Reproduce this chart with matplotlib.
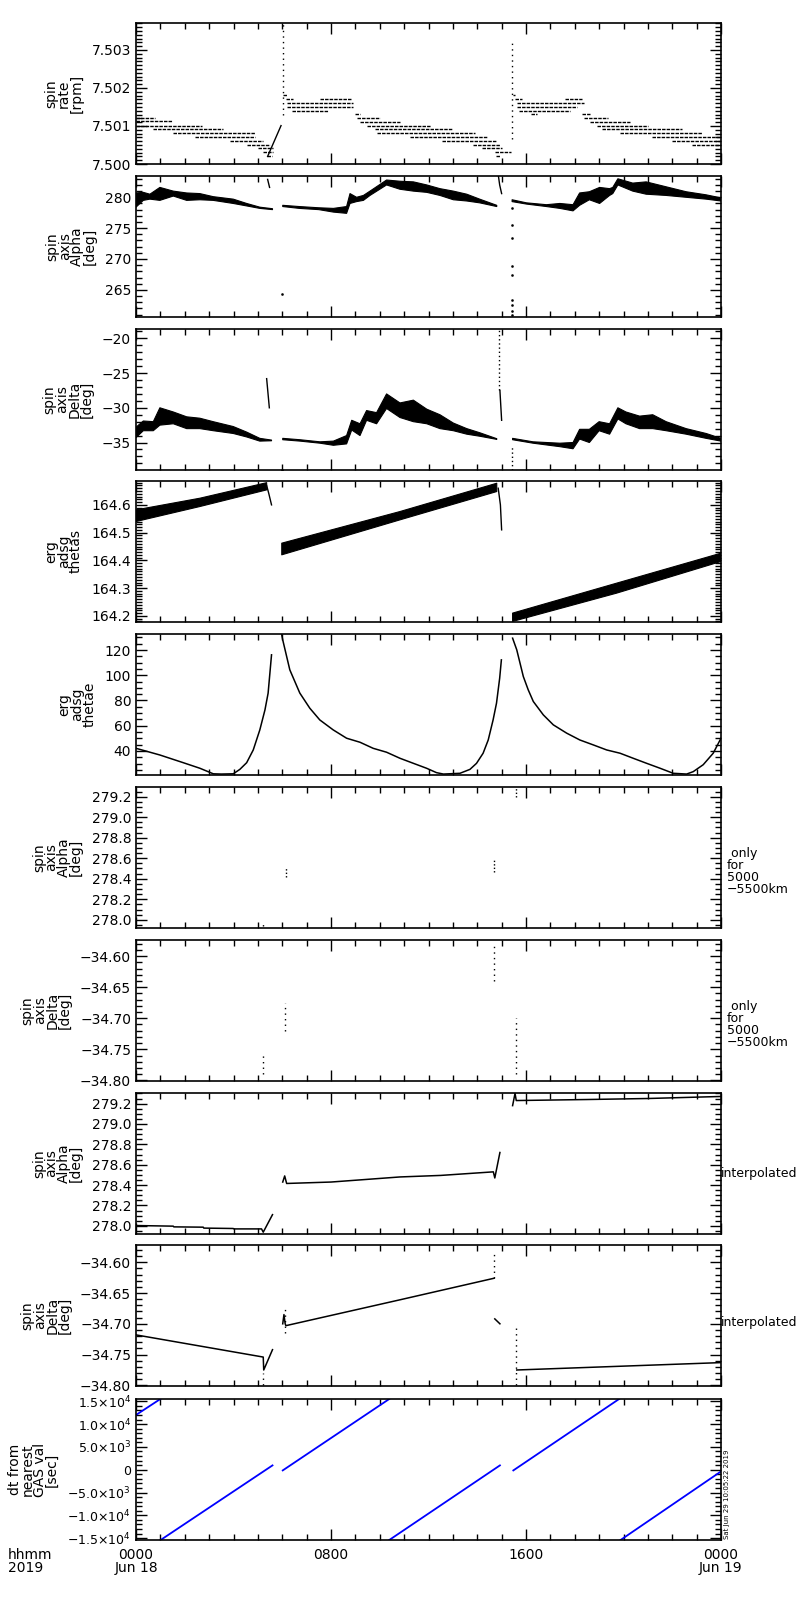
import numpy as np
import matplotlib
matplotlib.use("Agg")
import matplotlib.pyplot as plt
from matplotlib.ticker import MultipleLocator, FixedLocator, FuncFormatter

plt.rcParams['font.family'] = ['DejaVu Sans']
plt.rcParams['font.size'] = 10
plt.rcParams['mathtext.default'] = 'regular'

nan = np.nan

# ---------------- Panel 1: spin rate [rpm] (quantized horizontal runs) ----------
rate_start = [0.00, 0.00, 0.00, 0.71, 1.53, 2.42, 3.85, 4.54, 5.02, 5.22, 5.36,
              6.02, 6.15, 6.18, 7.55, 6.18, 6.38, 8.98, 9.05, 9.19, 9.46, 9.80, 9.90,
              11.24, 12.54, 13.84, 14.18, 14.73, 14.77,
              15.48, 15.55, 17.60, 15.62, 15.62, 15.73, 16.19, 18.29, 18.39, 18.63,
              18.90, 19.11, 19.86, 21.15, 21.97, 22.83]
rate_end = [0.78, 1.46, 2.69, 3.56, 4.88, 4.88, 5.22, 5.50, 5.63, 5.63, 5.56,
            6.21, 6.45, 8.91, 8.87, 8.91, 7.89, 9.19, 10.00, 10.83, 12.10, 12.95, 13.90,
            14.39, 14.80, 14.93, 15.00, 15.40, 14.93,
            15.55, 15.82, 18.29, 18.36, 18.09, 17.81, 16.44, 18.63, 19.38, 20.27,
            21.02, 22.39, 23.21, 24.00, 24.00, 24.00]
rate_val = [7.50122, 7.50112, 7.50101, 7.50091, 7.50082, 7.50072, 7.50061, 7.50051,
            7.50041, 7.50032, 7.50022,
            7.50182, 7.50172, 7.50161, 7.50172, 7.50151, 7.50140, 7.50132, 7.50122,
            7.50111, 7.50101, 7.50091, 7.50082,
            7.50072, 7.50061, 7.50051, 7.50041, 7.50032, 7.50022,
            7.50182, 7.50172, 7.50172, 7.50161, 7.50151, 7.50140, 7.50132, 7.50132,
            7.50122, 7.50111, 7.50101, 7.50091, 7.50082, 7.50072, 7.50061, 7.50051]
rate_ramp_t = [5.40, 5.95]
rate_ramp_v = [7.50020, 7.50101]
rate_spike_t = [6.02, 15.43]
rate_spike_lo = [7.50130, 7.50065]
rate_spike_hi = [7.50372, 7.50324]

# ---------------- Panel 2: spin axis Alpha (noisy band envelopes) ----------------
alpha_t = [0, 0.3, 0.57, 0.98, 1.53, 2.08, 2.62, 3.17, 3.99, 4.54, 5.08, 5.6, nan,
           6.02, 6.7, 7.5, 8.1, 8.64, 8.78, 9.05, 9.33, 9.6, 10.28, 10.83, 11.38, 11.93,
           12.47, 13.02, 13.57, 14.1, 14.8, nan,
           15.43, 16.02, 16.84, 17.39, 17.93, 18.2, 18.6, 19.02, 19.43, 19.56, 19.77,
           20.38, 20.93, 21.75, 22.57, 23.39, 24.0]
alpha_hi = [280.7, 280.8, 280.5, 281.6, 281.0, 280.7, 280.6, 280.1, 279.7, 279.0, 278.4, 278.15, nan,
            278.7, 278.5, 278.3, 278.2, 278.5, 280.6, 280.0, 280.3, 281.0, 282.8, 282.6, 282.5, 282.0,
            281.4, 281.0, 280.5, 279.7, 278.7, nan,
            279.6, 279.1, 278.8, 279.0, 278.8, 280.7, 280.9, 281.6, 281.4, 281.6, 283.0,
            282.3, 282.5, 281.7, 280.9, 280.4, 279.9]
alpha_lo = [278.4, 279.5, 279.7, 279.5, 280.2, 279.5, 279.6, 279.5, 279.0, 278.6, 278.2, 278.0, nan,
            278.5, 278.2, 278.0, 277.6, 277.4, 279.0, 279.3, 279.5, 280.3, 282.0, 281.3, 281.0, 280.8,
            280.3, 279.6, 279.4, 279.1, 278.5, nan,
            279.3, 278.9, 278.5, 278.2, 277.8, 278.7, 279.6, 279.0, 280.3, 280.6, 282.0,
            281.0, 280.5, 280.3, 280.0, 279.7, 279.4]
alpha_tr_t = [5.40, 5.48, nan, 14.87, 14.92, 15.00]
alpha_tr_v = [282.9, 281.6, nan, 283.4, 282.0, 280.6]
alpha_dot_t = [6.00, 15.43, 15.43, 15.43, 15.43, 15.43, 15.43, 15.43, 15.43, 15.43]
alpha_dot_v = [264.3, 278.3, 275.5, 273.4, 268.8, 267.4, 263.4, 262.5, 261.5, 261.0]

# ---------------- Panel 3: spin axis Delta ----------------
delta_t = [0, 0.3, 0.71, 0.98, 1.53, 2.08, 2.62, 3.17, 3.99, 4.54, 5.08, 5.56, nan,
           6.02, 6.73, 7.55, 8.1, 8.64, 8.85, 9.19, 9.46, 9.87, 10.28, 10.83, 11.38, 11.93,
           12.47, 13.02, 13.57, 14.11, 14.8, nan,
           15.45, 16.29, 17.39, 17.93, 18.2, 18.6, 19.0, 19.43, 19.77, 20.1, 20.66, 21.2,
           21.75, 22.57, 23.39, 24.0]
delta_hi = [-32.8, -31.9, -32.0, -30.0, -30.6, -31.3, -31.5, -32.0, -32.7, -33.5, -34.4, -34.65, nan,
            -34.4, -34.6, -34.9, -34.8, -34.0, -31.8, -32.3, -30.4, -30.7, -28.0, -29.3, -28.9, -30.2,
            -31.0, -32.2, -33.0, -33.6, -34.45, nan,
            -34.4, -34.9, -35.1, -35.0, -33.1, -33.1, -32.0, -32.3, -30.0, -30.6, -31.2, -31.0,
            -32.0, -33.0, -33.7, -34.4]
delta_lo = [-34.3, -33.3, -33.3, -32.5, -32.3, -33.0, -33.0, -33.3, -33.7, -34.2, -34.8, -34.75, nan,
            -34.6, -34.8, -35.1, -35.4, -35.2, -33.2, -34.0, -31.8, -32.3, -30.1, -31.4, -32.0, -32.3,
            -33.0, -33.3, -33.8, -34.1, -34.55, nan,
            -34.6, -35.1, -35.6, -35.9, -34.5, -35.0, -33.3, -33.8, -31.6, -32.3, -33.0, -33.0,
            -33.3, -33.8, -34.4, -34.8]
delta_tr_t = [5.36, 5.47, nan, 14.93, 15.00]
delta_tr_v = [-25.8, -30.0, nan, -27.5, -31.8]
delta_sp_t = [14.90, 15.43]
delta_sp_lo = [-27.5, -38.9]
delta_sp_hi = [-18.6, -35.6]
delta_dot_t = [5.98]
delta_dot_v = [-38.9]

# ---------------- Panel 4: erg adsg thetas ----------------
thetas_t = [0, 2.62, 5.36, nan, 5.98, 10.83, 14.8, nan, 15.45, 19.72, 24.0]
thetas_hi = [164.582, 164.624, 164.680, nan, 164.462, 164.576, 164.678, nan, 164.210, 164.318, 164.426]
thetas_lo = [164.540, 164.594, 164.654, nan, 164.420, 164.546, 164.648, nan, 164.180, 164.282, 164.396]
thetas_drop_t = [5.36, 5.45, 5.56, nan, 14.86, 14.95, 15.00]
thetas_drop_v = [164.67, 164.64, 164.60, nan, 164.66, 164.60, 164.51]

# ---------------- Panel 5: erg adsg thetae ----------------
thetae_t = [0, 0.98, 1.94, 2.62, 3.17, 3.5, 3.99, 4.26, 4.54, 4.81, 5.08, 5.29, 5.42, 5.56, nan,
            5.98, 6.02, 6.31, 6.72, 7.13, 7.54, 8.09, 8.64, 9.19, 9.73, 10.28, 10.83, 11.38,
            11.92, 12.33, 12.61, 13.29, 13.70, 13.97, 14.24, 14.45, 14.65, 14.79, 14.92, 14.99, nan,
            15.45, 15.62, 15.89, 16.09, 16.30, 16.71, 17.12, 17.67, 18.21, 18.76, 19.31, 19.86,
            20.40, 20.95, 21.50, 22.04, 22.59, 22.86, 23.27, 23.68, 24.0]
thetae_v = [42.1, 36.8, 30.7, 26.3, 21.9, 21.7, 21.9, 25.4, 30.7, 40.8, 56.7, 72.5, 85.8, 116.2, nan,
            132.0, 128.0, 104.3, 85.9, 73.9, 64.6, 56.7, 50.1, 46.9, 42.1, 39.0, 34.2, 30.2,
            26.3, 22.8, 21.7, 22.3, 25.4, 30.2, 38.2, 48.7, 64.6, 77.9, 97.7, 112.2, nan,
            129.4, 120.2, 99.0, 88.5, 79.2, 68.6, 60.7, 54.1, 48.7, 44.8, 40.8, 38.2,
            34.2, 30.2, 26.3, 22.3, 21.7, 23.6, 29.1, 38.2, 50.1]

# ---------------- Panel 6/7: only for 5000-5500 km ----------------
a6_t = [5.22, 6.14, 14.69, 15.59]
a6_lo = [277.94, 278.42, 278.47, 279.20]
a6_hi = [277.97, 278.50, 278.58, 279.29]
d7_t = [5.22, 6.11, 14.70, 15.58]
d7_lo = [-34.790, -34.720, -34.640, -34.790]
d7_hi = [-34.755, -34.675, -34.584, -34.700]

# ---------------- Panel 8: Alpha interpolated ----------------
a8_t = [0, 1.53, 1.55, 2.76, 2.78, 3.99, 4.01, 5.15, 5.22, 5.60, nan,
        6.02, 6.10, 6.18, 8.0, 10.83, 12.5, 14.66, 14.72, 14.93, nan,
        15.45, 15.55, 15.60, 18.5, 21.0, 24.0]
a8_v = [278.003, 277.997, 277.990, 277.987, 277.978, 277.974, 277.970, 277.970, 277.938, 278.110, nan,
        278.430, 278.490, 278.416, 278.430, 278.480, 278.495, 278.530, 278.470, 278.720, nan,
        279.180, 279.300, 279.230, 279.240, 279.250, 279.270]

# ---------------- Panel 9: Delta interpolated ----------------
d9_t = [0, 5.22, 5.24, 5.60, nan, 6.02, 6.07, 6.12, 6.15, 10.83, 14.69, nan,
        14.72, 14.93, nan, 15.62, 24.0]
d9_v = [-34.718, -34.754, -34.775, -34.742, nan, -34.700, -34.685, -34.700, -34.703, -34.661, -34.626, nan,
        -34.692, -34.700, nan, -34.775, -34.763]
d9_dot_t = [5.22, 6.12, 14.69, 15.58]
d9_dot_lo = [-34.800, -34.715, -34.625, -34.800]
d9_dot_hi = [-34.780, -34.675, -34.585, -34.700]

# ---------------- Panel 10: dt from nearest GAS val [sec] ----------------
dt_t = [0, 1.00, nan, 1.01, 5.60, nan, 6.02, 10.39, nan, 10.39, 14.93, nan,
        15.48, 19.82, nan, 19.88, 24.0]
dt_v = [12000, 15500, nan, -15400, 950, nan, -150, 15500, nan, -15400, 950, nan,
        -150, 15500, nan, -15400, -370]

# ---------------- axis settings ----------------
ylabels = ["spin\nrate\n[rpm]", "spin\naxis\nAlpha\n[deg]", "spin\naxis\nDelta\n[deg]",
           "erg\nadsg\nthetas", "erg\nadsg\nthetae", "spin\naxis\nAlpha\n[deg]",
           "spin\naxis\nDelta\n[deg]", "spin\naxis\nAlpha\n[deg]", "spin\naxis\nDelta\n[deg]",
           "dt from\nnearest\nGAS val\n[sec]"]
ylims = [(7.50000, 7.50371), (260.6, 283.45), (-38.96, -18.65), (164.178, 164.686),
         (20.95, 132.7), (277.92, 279.294), (-34.801, -34.574), (277.92, 279.304),
         (-34.801, -34.572), (-15400, 15500)]
ymajor = [0.001, 5, 5, 0.1, 20, 0.2, 0.05, 0.2, 0.05, 5000]
yminor = [0.0001, 1, 1, 0.01, 5, 0.05, 0.01, 0.05, 0.01, 1000]
yfmt = ["{:.3f}", "{:.0f}", "{:.0f}", "{:.1f}", "{:.0f}", "{:.1f}", "{:.2f}", "{:.1f}", "{:.2f}", None]
dt_ticks = [-15000, -10000, -5000, 0, 5000, 10000, 15000]
dt_ticklabels = [r"$-1.5{\times}10^{4}$", r"$-1.0{\times}10^{4}$", r"$-5.0{\times}10^{3}$", "0",
                 r"$5.0{\times}10^{3}$", r"$1.0{\times}10^{4}$", r"$1.5{\times}10^{4}$"]
xticks = [0, 8, 16, 24]
xticklabels = ["0000\nJun 18", "0800", "1600", "0000\nJun 19"]
right_notes = [None, None, None, None, None,
               " only\nfor\n5000\n\u22125500km", " only\nfor\n5000\n\u22125500km",
               "interpolated", "interpolated", None]
right_note_y = [0, 0, 0, 0, 0, 0.40, 0.40, 0.43, 0.45, 0]
right_note_dx = [0, 0, 0, 0, 0, 6, 6, 0, 0, 0]

W, H = 800, 1600
tops = [23, 176, 329, 481, 634, 787, 940, 1093, 1245, 1399]
ph = 141
left, pw = 136, 585

fig = plt.figure(figsize=(8, 16), dpi=100)
axes = []
for i in range(10):
    ax = fig.add_axes([left / W, 1 - (tops[i] + ph) / H, pw / W, ph / H])
    axes.append(ax)
    ax.set_xlim(0, 24)
    ax.set_ylim(*ylims[i])
    ax.xaxis.set_major_locator(FixedLocator(xticks))
    ax.xaxis.set_minor_locator(MultipleLocator(1))
    ax.tick_params(which='both', direction='in', top=True, right=True, width=1.0)
    ax.tick_params(which='major', length=8, labelsize=10)
    ax.tick_params(which='minor', length=4)
    for s in ax.spines.values():
        s.set_linewidth(1.2)
    if i == 9:
        ax.yaxis.set_major_locator(FixedLocator(dt_ticks))
        ax.set_yticklabels(dt_ticklabels, fontsize=9)
    else:
        ax.yaxis.set_major_locator(MultipleLocator(ymajor[i]))
        f = yfmt[i]
        ax.yaxis.set_major_formatter(FuncFormatter(
            lambda v, p, f=f: f.format(v + 0.0).replace("-", "\u2212")))
    ax.yaxis.set_minor_locator(MultipleLocator(yminor[i]))
    ax.set_ylabel(ylabels[i], fontsize=10, linespacing=0.85, labelpad=6)
    if i == 9:
        ax.set_xticklabels(xticklabels, fontsize=10, linespacing=0.9)
        ax.tick_params(axis='x', which='major', pad=6)
    else:
        ax.set_xticklabels([])
    if right_notes[i]:
        ax.text(1.0 + right_note_dx[i] / pw, right_note_y[i], right_notes[i],
                transform=ax.transAxes, ha='left', va='center',
                fontsize=9, linespacing=0.9)

k = 'black'
# panel 1
ax = axes[0]
ax.hlines(rate_val, rate_start, rate_end, color=k, lw=1.0, linestyles=(0, (2.5, 0.8)))
ax.plot(rate_ramp_t, rate_ramp_v, color=k, lw=1)
ax.vlines(rate_spike_t, rate_spike_lo, rate_spike_hi, color=k, lw=1, linestyles=(0, (1, 3)))

# panel 2
ax = axes[1]
ax.fill_between(alpha_t, alpha_lo, alpha_hi, color=k, lw=0.8, edgecolor=k)
ax.plot(alpha_tr_t, alpha_tr_v, color=k, lw=1)
ax.plot(alpha_dot_t, alpha_dot_v, ls='none', marker='s', ms=0.8, color=k)

# panel 3
ax = axes[2]
ax.fill_between(delta_t, delta_lo, delta_hi, color=k, lw=0.8, edgecolor=k)
ax.plot(delta_tr_t, delta_tr_v, color=k, lw=1)
ax.vlines(delta_sp_t, delta_sp_lo, delta_sp_hi, color=k, lw=1, linestyles=(0, (1, 2)))
ax.plot(delta_dot_t, delta_dot_v, ls='none', marker='s', ms=0.8, color=k)

# panel 4
ax = axes[3]
ax.fill_between(thetas_t, thetas_lo, thetas_hi, color=k, lw=0.8, edgecolor=k)
ax.plot(thetas_drop_t, thetas_drop_v, color=k, lw=1)

# panel 5
ax = axes[4]
ax.plot(thetae_t, thetae_v, color=k, lw=1.1)

# panel 6 / 7
axes[5].vlines(a6_t, a6_lo, a6_hi, color=k, lw=1, linestyles=(0, (1, 1.5)))
axes[6].vlines(d7_t, d7_lo, d7_hi, color=k, lw=1, linestyles=(0, (1, 3)))

# panel 8
axes[7].plot(a8_t, a8_v, color=k, lw=1.1)

# panel 9
axes[8].plot(d9_t, d9_v, color=k, lw=1.1)
axes[8].vlines(d9_dot_t, d9_dot_lo, d9_dot_hi, color=k, lw=1, linestyles=(0, (1, 3)))

# panel 10
axes[9].plot(dt_t, dt_v, color='#0000ff', lw=1.3)

fig.text(8 / W, 1 - 1548 / H, "hhmm\n2019", ha='left', va='top', fontsize=10, linespacing=0.9)
fig.text(727 / W, 1 - 1539 / H, "Sat Jun 29 10:05:22 2019", rotation=90,
         ha='center', va='bottom', fontsize=5)

fig.savefig("out.png", dpi=100)
